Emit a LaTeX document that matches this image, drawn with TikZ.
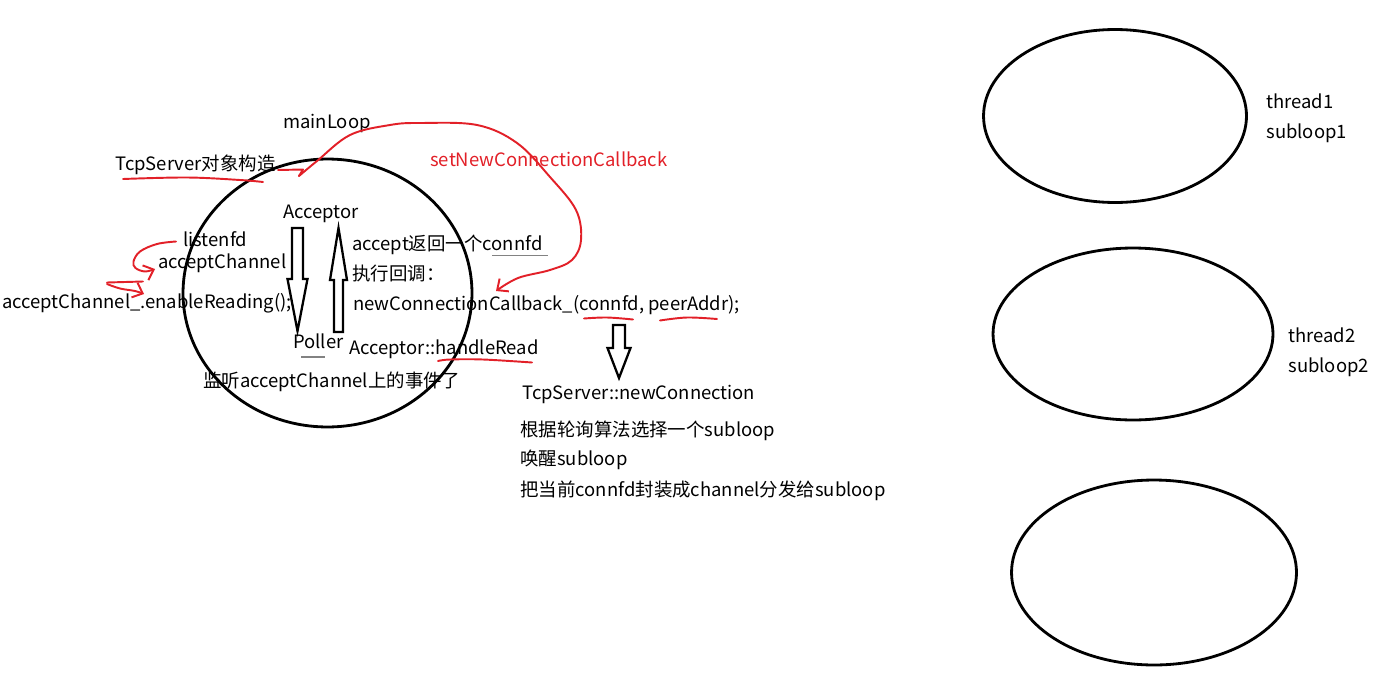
\documentclass[tikz,border=0pt]{standalone}
\usepackage{fontspec}
\setmainfont{Noto Sans CJK SC}
\usetikzlibrary{shapes.geometric,arrows.meta}
\definecolor{pen}{RGB}{226,32,40}
\definecolor{ulgray}{RGB}{130,130,130}
\newcommand{\hollowarr}[6]{\draw[harrow] (#1-#5,#2) -- (#1+#5,#2) -- (#1+#5,#3) -- (#1+#6,#3) -- (#1,#4) -- (#1-#6,#3) -- (#1-#5,#3) -- cycle;}
\begin{document}
\begin{tikzpicture}[x=0.02cm,y=-0.02cm,
  txt/.style={anchor=base west, inner sep=0pt, font=\fontsize{10.5}{12}\selectfont},
  loopshape/.style={draw, ellipse, line width=1.6pt, inner sep=0pt},
  harrow/.style={draw, line width=1.3pt, line join=miter},
  redpen/.style={draw=pen, line width=1.1pt, line cap=round, line join=round},
  redarr/.style={redpen, -{Straight Barb[length=5pt,width=9pt]}},
  ul/.style={draw=ulgray, line width=0.6pt}]
\useasboundingbox (0,0) rectangle (1391,676);

% ellipses
\node[loopshape, minimum width=5.78cm, minimum height=5.36cm] (mainc) at (327.5,293) {};
\node[loopshape, minimum width=5.26cm, minimum height=3.46cm] (e1) at (1115,116) {};
\node[loopshape, minimum width=5.6cm, minimum height=3.44cm] (e2) at (1133,334) {};
\node[loopshape, minimum width=5.7cm, minimum height=3.7cm] (e3) at (1154,572.5) {};

% texts
\node[txt] (mainloop) at (283,128) {mainLoop};
\node[txt] (tcpserver) at (115,170) {TcpServer对象构造};
\node[txt, text=pen] (setcb) at (430,166) {setNewConnectionCallback};
\node[txt] (acceptor) at (283,218) {Acceptor};
\node[txt] (listenfd) at (183,246.5) {listenfd};
\node[txt] (achan) at (158,268) {acceptChannel};
\node[txt] (enable) at (2,308) {acceptChannel\_.enableReading();};
\node[txt] (acceptret) at (352,250) {accept返回一个connfd};
\node[txt] (exec) at (352,280) {执行回调：};
\node[txt] (newcb) at (353,310) {newConnectionCallback\_(connfd, peerAddr);};
\node[txt] (poller) at (293,348) {Poller};
\node[txt] (handleread) at (349,354) {Acceptor::handleRead};
\node[txt] (listen) at (203,387) {监听acceptChannel上的事件了};
\node[txt] (newconn) at (522,399) {TcpServer::newConnection};
\node[txt] (rr) at (520,436) {根据轮询算法选择一个subloop};
\node[txt] (wake) at (520,465) {唤醒subloop};
\node[txt] (dispatch) at (520,496) {把当前connfd封装成channel分发给subloop};
\node[txt] (t1) at (1266,108) {thread1};
\node[txt] (s1) at (1266,138) {subloop1};
\node[txt] (t2) at (1288,342) {thread2};
\node[txt] (s2) at (1288,372) {subloop2};

% gray underlines
\draw[ul] (492,255.5) -- (548,255.5);
\draw[ul] (301,357) -- (325,357);

% hollow arrows
\hollowarr{297.5}{228}{279}{331}{5.5}{10}
\hollowarr{338.5}{332}{280}{228}{4.5}{8.5}
\hollowarr{619}{325}{348}{378}{6}{11.5}

% red strokes
\draw[redpen] plot[smooth, tension=0.6] coordinates {(123,179) (187,177.5) (240,180) (263,182)};
\draw[redpen] (278,170) -- (303,169.5) -- (299,176);
\draw[redarr] plot[smooth, tension=0.6] coordinates {(299,176) (317,161) (350,135) (390,125) (420,123) (477,125) (517,143) (550,177) (576,210) (581,240) (572,260) (550,270) (518,278) (496,291)};
\draw[redarr] plot[smooth, tension=0.6] coordinates {(176,241.5) (157,244) (140,251.5) (133.5,261.5) (135.5,268) (145,271.5) (155,269)};
\draw[redpen] (107,282.5) -- (143,281.5);
\draw[redarr] plot[smooth, tension=0.6] coordinates {(107,284) (120,288.5) (135,291) (144,294)};
\draw[redpen] plot[smooth, tension=0.6] coordinates {(584,318.5) (607,317.5) (633,319.5)};
\draw[redpen] plot[smooth, tension=0.6] coordinates {(660,320.5) (687,317.5) (717,319)};
\draw[redpen] plot[smooth, tension=0.6] coordinates {(438,361) (450,359.5) (483,359.5) (532,362.5)};
\end{tikzpicture}
\end{document}
